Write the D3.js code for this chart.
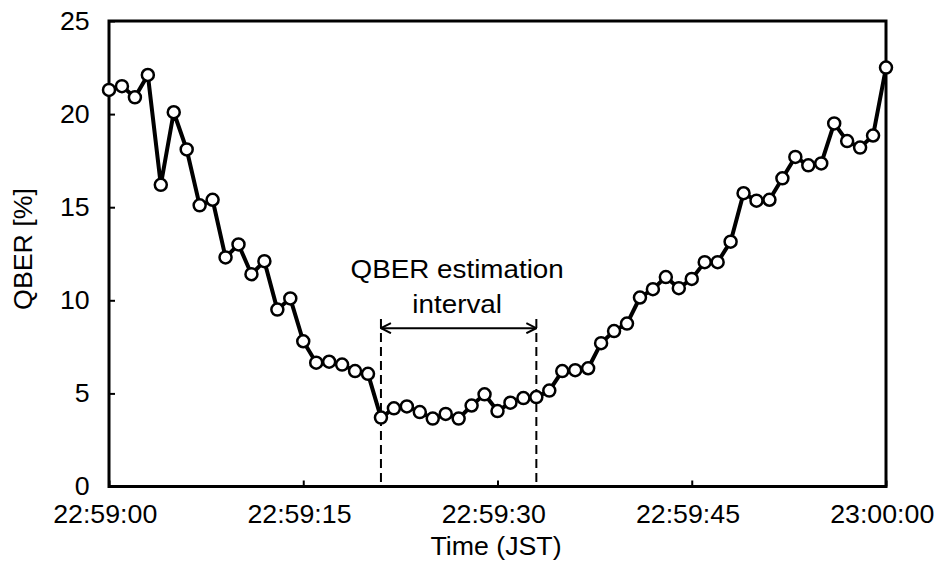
<!DOCTYPE html>
<html>
<head>
<meta charset="utf-8">
<script src="https://cdn.jsdelivr.net/npm/d3@7/dist/d3.min.js"></script>
<style>
    body { margin: 0; background: #fff; }
    text { font-family: "Liberation Sans", Arial, sans-serif; fill: #000; }
</style>
</head>
<body>
<svg id="chart" width="938" height="566"></svg>
<script>
"use strict";

// QBER sampled once per second, 22:59:00 .. 23:00:00
var seconds = d3.range(0, 61);
var qber = [
    21.3, 21.5, 20.9, 22.1, 16.2, 20.1, 18.1, 15.1, 15.4, 12.3,
    13.0, 11.4, 12.1, 9.5, 10.1, 7.8, 6.65, 6.7, 6.55, 6.2,
    6.05, 3.7, 4.2, 4.3, 4.0, 3.65, 3.9, 3.65, 4.35, 4.95,
    4.05, 4.5, 4.75, 4.8, 5.15, 6.2, 6.25, 6.35, 7.7, 8.35,
    8.75, 10.15, 10.6, 11.25, 10.65, 11.15, 12.05, 12.05, 13.15, 15.75,
    15.35, 15.4, 16.55, 17.7, 17.25, 17.35, 19.5, 18.55, 18.2, 18.85,
    22.5
];
var xTickValues = [0, 15, 30, 45, 60];
var xTickLabels = ["22:59:00", "22:59:15", "22:59:30", "22:59:45", "23:00:00"];
var yTickValues = [0, 5, 10, 15, 20, 25];
var intervalBounds = [21, 33];
var annotationLines = ["QBER estimation", "interval"];

var width = 938, height = 566;
var margin = {top: 21, right: 52, bottom: 79.5, left: 109};
var plotW = width - margin.left - margin.right;
var plotH = height - margin.top - margin.bottom;
var stretch = "scale(1.07,1)"; // the original lettering is a bit wide

var svg = d3.select("#chart");
var g = svg.append("g").attr("transform", "translate(" + margin.left + "," + margin.top + ")");

var x = d3.scaleLinear().domain([0, 60]).range([0, plotW]);
var y = d3.scaleLinear().domain([0, 25]).range([plotH, 0]);

var yAxis = d3.axisLeft(y)
    .tickValues(yTickValues)
    .tickSizeInner(-6)
    .tickSizeOuter(0)
    .tickPadding(18);
var xAxis = d3.axisBottom(x)
    .tickValues(xTickValues)
    .tickFormat(function (d, i) { return xTickLabels[i]; })
    .tickSizeInner(-6)
    .tickSizeOuter(0)
    .tickPadding(19);

var gy = g.append("g").call(yAxis);
var gx = g.append("g").attr("transform", "translate(0," + plotH + ")").call(xAxis);
[gx, gy].forEach(function (ax) {
    ax.select(".domain").remove();
    ax.selectAll("line").attr("stroke", "#000").attr("stroke-width", 2);
    ax.selectAll("text").attr("font-size", 25).attr("fill", "#000")
        .attr("transform", stretch)
        .style("font-family", '"Liberation Sans", Arial, sans-serif');
});
gx.selectAll("text").attr("dx", -4);

// frame
g.append("rect")
    .attr("x", 0).attr("y", 0)
    .attr("width", plotW).attr("height", plotH)
    .attr("fill", "none")
    .attr("stroke", "#000")
    .attr("stroke-width", 3);

// estimation interval markers
var dashTop = y(9.0);
g.selectAll(".bound").data(intervalBounds).enter().append("line")
    .attr("class", "bound")
    .attr("x1", function (d) { return x(d); })
    .attr("x2", function (d) { return x(d); })
    .attr("y1", dashTop)
    .attr("y2", plotH)
    .attr("stroke", "#000")
    .attr("stroke-width", 2)
    .attr("stroke-dasharray", "9,5");

var defs = svg.append("defs");
defs.append("marker")
    .attr("id", "arrowhead")
    .attr("viewBox", "0 0 12 12")
    .attr("refX", 11).attr("refY", 6)
    .attr("markerWidth", 12).attr("markerHeight", 12)
    .attr("markerUnits", "userSpaceOnUse")
    .attr("orient", "auto-start-reverse")
    .append("path")
    .attr("d", "M1,1 L11,6 L1,11")
    .attr("fill", "none")
    .attr("stroke", "#000")
    .attr("stroke-width", 2);

var arrowY = y(8.5);
g.append("line")
    .attr("x1", x(intervalBounds[0])).attr("x2", x(intervalBounds[1]))
    .attr("y1", arrowY).attr("y2", arrowY)
    .attr("stroke", "#000")
    .attr("stroke-width", 2)
    .attr("marker-start", "url(#arrowhead)")
    .attr("marker-end", "url(#arrowhead)");

var midX = (x(intervalBounds[0]) + x(intervalBounds[1])) / 2 - 1.5;
g.selectAll(".annot").data(annotationLines).enter().append("text")
    .attr("class", "annot")
    .attr("transform", function (d, i) {
        return "translate(" + midX + "," + (257 + i * 35) + ") " + stretch;
    })
    .attr("text-anchor", "middle")
    .attr("font-size", 26)
    .text(function (d) { return d; });

// series
var line = d3.line()
    .x(function (d, i) { return x(seconds[i]); })
    .y(function (d) { return y(d); });

g.append("path")
    .datum(qber)
    .attr("fill", "none")
    .attr("stroke", "#000")
    .attr("stroke-width", 4)
    .attr("stroke-linejoin", "round")
    .attr("d", line);

g.selectAll(".pt").data(qber).enter().append("circle")
    .attr("class", "pt")
    .attr("cx", function (d, i) { return x(seconds[i]); })
    .attr("cy", function (d) { return y(d); })
    .attr("r", 6)
    .attr("fill", "#fff")
    .attr("stroke", "#000")
    .attr("stroke-width", 2.5);

// axis titles
svg.append("text")
    .attr("transform", "translate(" + (margin.left + plotW / 2 - 1.5) + ",555) " + stretch)
    .attr("text-anchor", "middle")
    .attr("font-size", 25)
    .text("Time (JST)");

svg.append("text")
    .attr("transform", "translate(32,249) rotate(-90) " + stretch)
    .attr("text-anchor", "middle")
    .attr("font-size", 25)
    .text("QBER [%]");
</script>
</body>
</html>
